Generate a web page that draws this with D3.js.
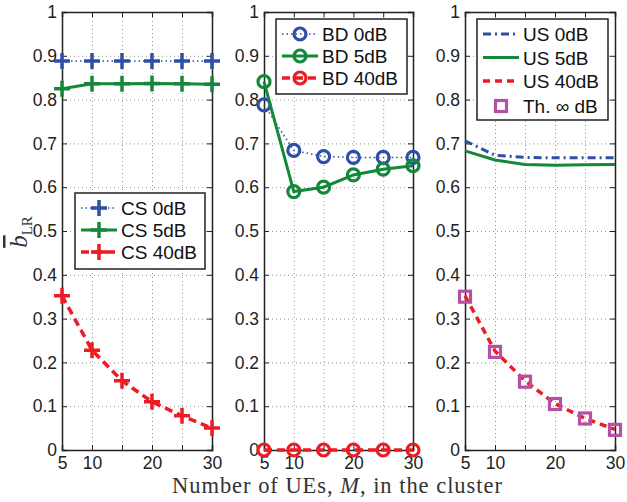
<!DOCTYPE html>
<html>
<head>
<meta charset="utf-8">
<script src="https://cdn.jsdelivr.net/npm/d3@7"></script>
<style>
  body { margin: 0; background: #fff; }
  svg { display: block; }
  .tick text { font-family: "Liberation Sans", Arial, sans-serif; font-size: 17.5px; fill: #222; }
</style>
</head>
<body>
<svg id="chart"></svg>
<script>
const width = 627;
const height = 502;

// x values (number of UEs) and labelled ticks
const users = [5, 10, 15, 20, 25, 30];
const xTickLabels = [5, 10, 20, 30];

// CS panel
const cs0dB = [0.888, 0.888, 0.888, 0.888, 0.888, 0.888];
const cs5dB = [0.825, 0.836, 0.836, 0.837, 0.836, 0.835];
const cs40dB = [0.352, 0.228, 0.158, 0.110, 0.078, 0.050];

// BD panel
const bd0dB = [0.788, 0.684, 0.670, 0.668, 0.668, 0.668];
const bd5dB = [0.841, 0.590, 0.600, 0.628, 0.641, 0.649];
const bd40dB = [0, 0, 0, 0, 0, 0];

// US panel
const us0dB = [0.706, 0.673, 0.668, 0.667, 0.667, 0.667];
const us5dB = [0.683, 0.662, 0.652, 0.650, 0.651, 0.652];
const us40dB = [0.352, 0.226, 0.158, 0.106, 0.072, 0.047];
const thInf = [0.350, 0.224, 0.156, 0.105, 0.072, 0.046];

const blue = '#2f4fa6';
const green = '#15873a';
const red = '#ec1c24';
const magenta = '#b64fa6';

const panels = [
  {
    left: 62, right: 212,
    legend: {x: 75, y: 193, w: 130, h: 76},
    series: [
      {name: 'CS 0dB', values: cs0dB, color: blue, dash: '1.5,3', lw: 1.5, marker: 'plus'},
      {name: 'CS 5dB', values: cs5dB, color: green, dash: null, lw: 3, marker: 'plus'},
      {name: 'CS 40dB', values: cs40dB, color: red, dash: '8,5', lw: 3.5, marker: 'plus'},
    ],
  },
  {
    left: 264, right: 413,
    legend: {x: 276, y: 19, w: 131, h: 75},
    series: [
      {name: 'BD 0dB', values: bd0dB, color: blue, dash: '1.5,3', lw: 1.5, marker: 'circle'},
      {name: 'BD 5dB', values: bd5dB, color: green, dash: null, lw: 3, marker: 'circle'},
      {name: 'BD 40dB', values: bd40dB, color: red, dash: '8,5', lw: 3.5, marker: 'circle'},
    ],
  },
  {
    left: 465, right: 615,
    legend: {x: 477, y: 19, w: 131, h: 101},
    series: [
      {name: 'US 0dB', values: us0dB, color: blue, dash: '8,4,2,4', lw: 3, marker: null},
      {name: 'US 5dB', values: us5dB, color: green, dash: null, lw: 3, marker: null},
      {name: 'US 40dB', values: us40dB, color: red, dash: '7,5', lw: 3.5, marker: null},
      {name: 'Th. \u221E dB', values: thInf, color: magenta, dash: null, lw: 0, marker: 'square', noLine: true},
    ],
  },
];

const plotTop = 12;
const plotBottom = 450;

const svg = d3.select('#chart')
    .attr('width', width)
    .attr('height', height)
    .attr('viewBox', [0, 0, width, height]);

const y = d3.scaleLinear().domain([0, 1]).range([plotBottom, plotTop]);

const drawMarker = (g, type, color) => {
  if (type === 'plus') {
    g.append('path').attr('d', 'M-8,0H8M0,-8V8')
        .attr('stroke', color).attr('stroke-width', 3.5).attr('fill', 'none');
  } else if (type === 'circle') {
    g.append('circle').attr('r', 6)
        .attr('stroke', color).attr('stroke-width', 3.2).attr('fill', 'none');
  } else if (type === 'square') {
    g.append('rect').attr('x', -5.5).attr('y', -5.5).attr('width', 11).attr('height', 11)
        .attr('stroke', color).attr('stroke-width', 3.2).attr('fill', 'none');
  }
};

panels.forEach((p) => {
  const x = d3.scaleLinear().domain([5, 30]).range([p.left, p.right]);
  const w = p.right - p.left;
  const g = svg.append('g');

  // grid
  g.append('g')
      .attr('transform', `translate(0,${plotBottom})`)
      .call(d3.axisBottom(x).tickValues(users).tickSize(-(plotBottom - plotTop)).tickFormat(''))
      .call((a) => a.select('.domain').remove())
      .call((a) => a.selectAll('line').attr('stroke', '#777').attr('stroke-width', 0.8).attr('stroke-dasharray', '1,3'));
  g.append('g')
      .attr('transform', `translate(${p.left},0)`)
      .call(d3.axisLeft(y).ticks(10).tickSize(-w).tickFormat(''))
      .call((a) => a.select('.domain').remove())
      .call((a) => a.selectAll('line').attr('stroke', '#777').attr('stroke-width', 0.8).attr('stroke-dasharray', '1,3'));

  // axes with inward ticks on all sides
  const fmtY = (d) => d3.format('.1~f')(d);
  const fmtX = (d) => xTickLabels.includes(d) ? d : '';
  const axes = [
    g.append('g').attr('transform', `translate(${p.left},0)`)
        .call(d3.axisLeft(y).ticks(10).tickSize(-5).tickPadding(5).tickFormat(fmtY)),
    g.append('g').attr('transform', `translate(${p.right},0)`)
        .call(d3.axisRight(y).ticks(10).tickSize(-5).tickFormat('')),
    g.append('g').attr('transform', `translate(0,${plotBottom})`)
        .call(d3.axisBottom(x).tickValues(users).tickSize(-5).tickPadding(7).tickFormat(fmtX)),
    g.append('g').attr('transform', `translate(0,${plotTop})`)
        .call(d3.axisTop(x).tickValues(users).tickSize(-5).tickFormat('')),
  ];
  axes.forEach((a) => {
    a.select('.domain').attr('stroke', '#222').attr('stroke-width', 1.5);
    a.selectAll('.tick line').attr('stroke', '#222').attr('stroke-width', 1);
  });

  // series
  const line = d3.line().x((d, i) => x(users[i])).y((d) => y(d));
  p.series.forEach((s) => {
    if (!s.noLine) {
      g.append('path')
          .attr('d', line(s.values))
          .attr('fill', 'none')
          .attr('stroke', s.color)
          .attr('stroke-width', s.lw)
          .attr('stroke-dasharray', s.dash);
    }
    if (s.marker) {
      s.values.forEach((v, i) => {
        drawMarker(g.append('g').attr('transform', `translate(${x(users[i])},${y(v)})`), s.marker, s.color);
      });
    }
  });

  // legend
  const L = p.legend;
  const lg = svg.append('g').attr('transform', `translate(${L.x},${L.y})`);
  lg.append('rect').attr('width', L.w).attr('height', L.h)
      .attr('fill', '#fff').attr('stroke', '#222').attr('stroke-width', 1.5);
  const rowH = p.series.length === 4 ? 23.5 : 22;
  p.series.forEach((s, i) => {
    const cy = 15 + i * rowH + (i === 3 ? 1.5 : 0);
    const row = lg.append('g').attr('transform', `translate(0,${cy})`);
    if (!s.noLine) {
      row.append('line').attr('x1', 6).attr('x2', 42).attr('y1', 0).attr('y2', 0)
          .attr('stroke', s.color).attr('stroke-width', s.lw).attr('stroke-dasharray', s.dash);
    }
    if (s.marker) drawMarker(row.append('g').attr('transform', 'translate(24,0)'), s.marker, s.color);
    row.append('text')
        .attr('x', 46).attr('y', 7)
        .attr('font-family', '"Liberation Sans", Arial, sans-serif')
        .attr('font-size', 19)
        .attr('fill', '#111')
        .text(s.name);
  });
});

// x label
svg.append('text')
    .attr('x', 337).attr('y', 493)
    .attr('text-anchor', 'middle')
    .attr('font-family', '"Liberation Serif", "Times New Roman", serif')
    .attr('font-size', 22.5)
    .attr('textLength', 330)
    .attr('lengthAdjust', 'spacing')
    .attr('fill', '#333')
    .call((t) => {
      t.append('tspan').text('Number of UEs, ');
      t.append('tspan').attr('font-style', 'italic').text('M');
      t.append('tspan').text(', in the cluster');
    });

// y label
svg.append('text')
    .attr('transform', 'translate(27,232) rotate(-90)')
    .attr('text-anchor', 'middle')
    .attr('font-family', '"Liberation Serif", "Times New Roman", serif')
    .attr('fill', '#333')
    .call((t) => {
      t.append('tspan').attr('font-style', 'italic').attr('font-size', 25)
          .style('text-decoration', 'overline').text('b');
      t.append('tspan').attr('font-size', 15).attr('dy', 5).text('LR');
    });
</script>
</body>
</html>
